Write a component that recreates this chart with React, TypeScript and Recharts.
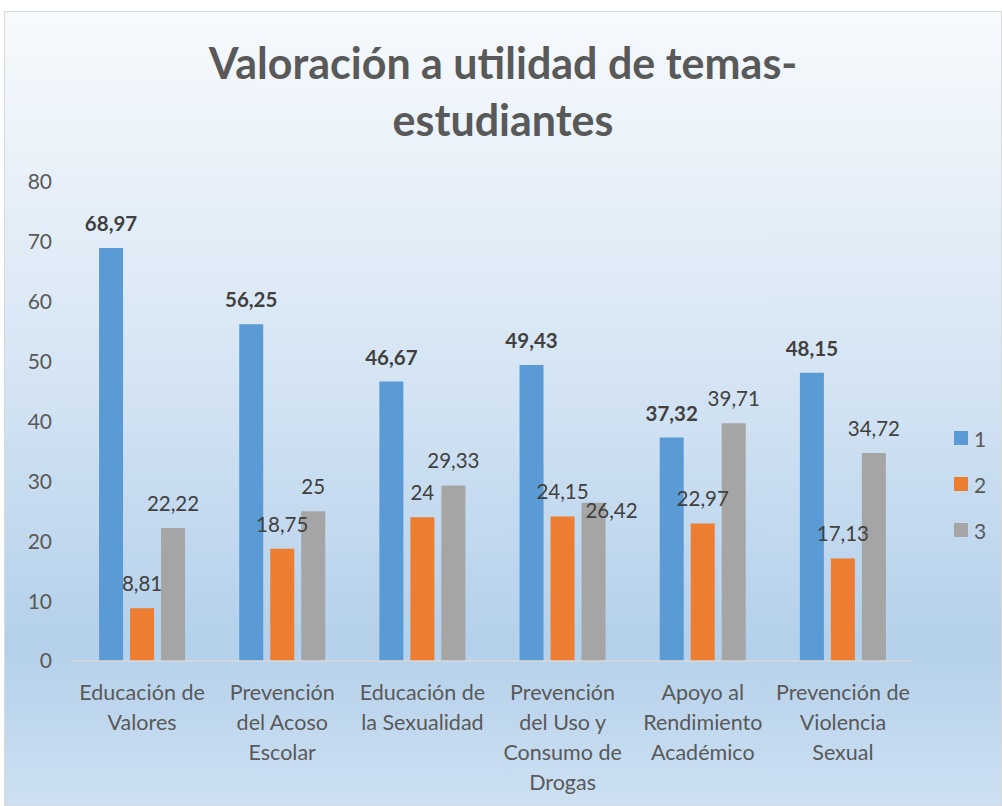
import React from 'react';
import { BarChart, Bar, XAxis, YAxis, Legend, LabelList } from 'recharts';

const categoryLines = [
  ['Educación de', 'Valores'],
  ['Prevención', 'del Acoso', 'Escolar'],
  ['Educación de', 'la Sexualidad'],
  ['Prevención', 'del Uso y', 'Consumo de', 'Drogas'],
  ['Apoyo al', 'Rendimiento', 'Académico'],
  ['Prevención de', 'Violencia', 'Sexual'],
];
const categories = categoryLines.map((l) => l.join(' '));

const serie1 = [68.97, 56.25, 46.67, 49.43, 37.32, 48.15];
const serie2 = [8.81, 18.75, 24, 24.15, 22.97, 17.13];
const serie3 = [22.22, 25, 29.33, 26.42, 39.71, 34.72];

const yTicks = [0, 10, 20, 30, 40, 50, 60, 70, 80];

const seriesNames = ['1', '2', '3'];
const colors = ['#5b9bd5', '#ed7d31', '#a5a5a5'];

const data = categories.map((name, i) => ({
  name,
  s1: serie1[i],
  s2: serie2[i],
  s3: serie3[i],
}));

const FONT = 'Lato, "Noto Sans", sans-serif';
const TEXT = '#595959';
const LABEL = '#404040';

const fmt = (v: any) => String(v).replace('.', ',');

const CategoryTick = (props: any) => {
  const { x, y, index } = props;
  const lines = categoryLines[index] || [];
  return (
    <g>
      {lines.map((line, i) => (
        <text
          key={i}
          x={x}
          y={y + 31 + i * 30}
          textAnchor="middle"
          fill={TEXT}
          fontSize={21.5}
          fontFamily={FONT}
        >
          {line}
        </text>
      ))}
    </g>
  );
};

// labels of series 3: nudged right/below when they would collide with series 2's label
const Serie3Label = (props: any) => {
  const { x, y, width, index, value } = props;
  let cx = x + width / 2;
  let by = y - 17;
  if (Math.abs(serie3[index] - serie2[index]) < 3) {
    cx += 18;
    by = y + 15;
  }
  return (
    <text x={cx} y={by} textAnchor="middle" fill={LABEL} fontSize={20.5} fontFamily={FONT}>
      {fmt(value)}
    </text>
  );
};

const LegendBox = () => (
  <div style={{ fontFamily: FONT }}>
    {seriesNames.map((n, i) => (
      <div key={n} style={{ display: 'flex', alignItems: 'center', height: 46 }}>
        <span style={{ width: 14, height: 14, background: colors[i], display: 'inline-block', marginRight: 6 }} />
        <span style={{ fontSize: 21, color: TEXT }}>{n}</span>
      </div>
    ))}
  </div>
);

export default function App() {
  return (
    <div
      style={{
        position: 'absolute',
        left: 4,
        top: 11,
        width: 998,
        height: 795,
        boxSizing: 'border-box',
        border: '1px solid #d9d9d9',
        background: 'linear-gradient(180deg, #f7fafd 0%, #d6e5f4 45%, #b4d0ea 80%, #cde0f2 100%)',
        overflow: 'hidden',
      }}
    >
      <div
        style={{
          position: 'absolute',
          left: 0,
          width: '100%',
          top: 22,
          textAlign: 'center',
          fontFamily: FONT,
          fontWeight: 700,
          fontSize: 43,
          lineHeight: '57px',
          color: TEXT,
        }}
      >
        <div>Valoración a utilidad de temas-</div>
        <div>estudiantes</div>
      </div>
      <BarChart
        width={996}
        height={793}
        data={data}
        margin={{ top: 170, right: 88, left: 0, bottom: 0 }}
        barCategoryGap="19.3%"
        barGap={7}
      >
        <XAxis
          dataKey="name"
          height={144}
          tickLine={false}
          axisLine={{ stroke: '#d9d9d9', strokeWidth: 1.5 }}
          tick={<CategoryTick />}
          interval={0}
        />
        <YAxis
          width={67}
          domain={[0, 80]}
          ticks={yTicks}
          axisLine={false}
          tickLine={false}
          tickSize={0}
          tickMargin={20}
          tick={{ fill: TEXT, fontSize: 21, fontFamily: FONT }}
        />
        <Legend
          layout="vertical"
          align="center"
          verticalAlign="middle"
          content={<LegendBox />}
          wrapperStyle={{ left: 949, top: 403, width: 40 }}
        />
        <Bar dataKey="s1" name={seriesNames[0]} fill={colors[0]} isAnimationActive={false}>
          <LabelList
            dataKey="s1"
            position="top"
            offset={17}
            formatter={fmt}
            fill={LABEL}
            fontSize={20.5}
            fontWeight={700}
            fontFamily={FONT}
          />
        </Bar>
        <Bar dataKey="s2" name={seriesNames[1]} fill={colors[1]} isAnimationActive={false}>
          <LabelList
            dataKey="s2"
            position="top"
            offset={17}
            formatter={fmt}
            fill={LABEL}
            fontSize={20.5}
            fontFamily={FONT}
          />
        </Bar>
        <Bar dataKey="s3" name={seriesNames[2]} fill={colors[2]} isAnimationActive={false}>
          <LabelList dataKey="s3" content={<Serie3Label />} />
        </Bar>
      </BarChart>
    </div>
  );
}
